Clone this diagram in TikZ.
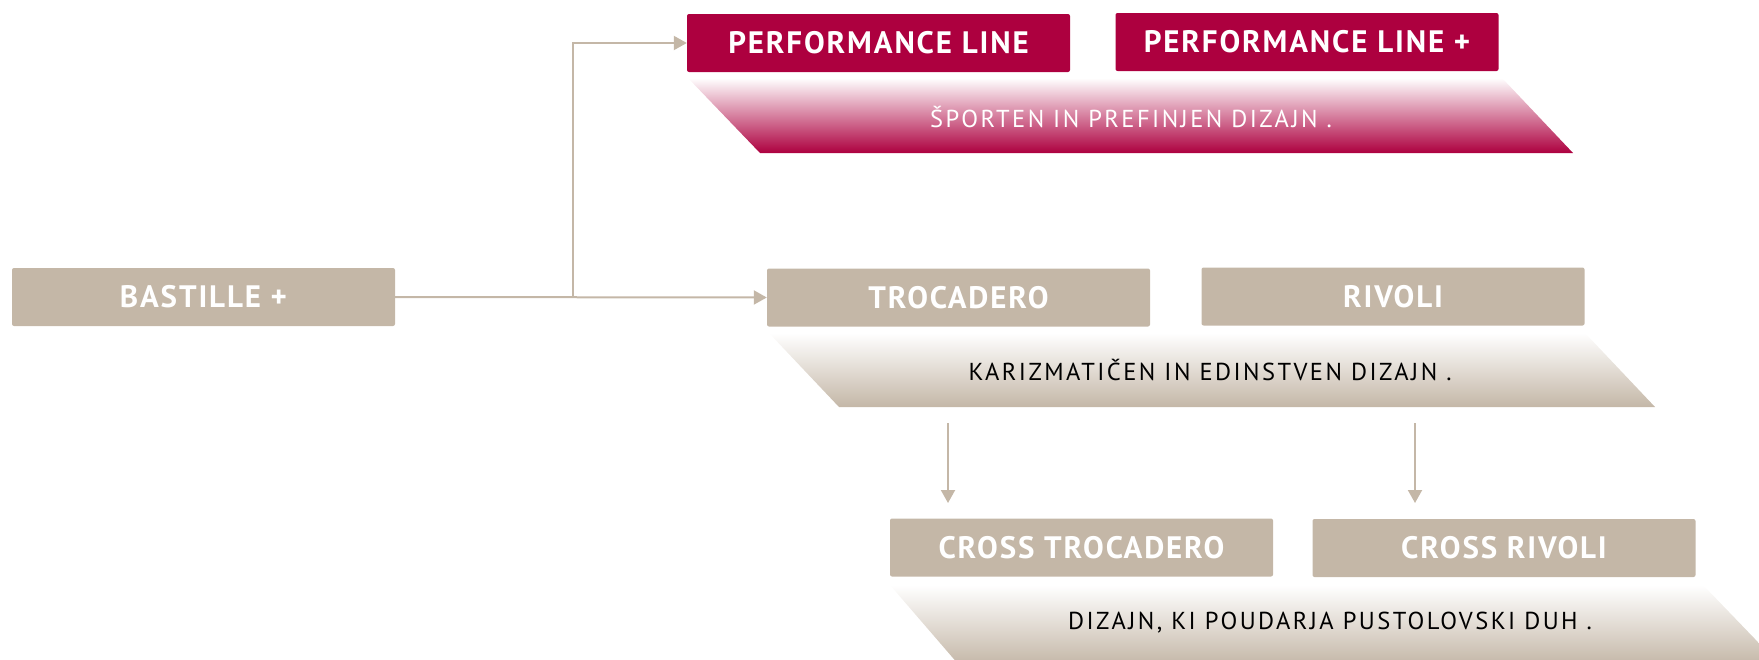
\documentclass[tikz,border=0pt]{standalone}
\usepackage{fontspec}
\setmainfont{PT Sans}
\newfontfamily\boxfont[LetterSpace=6]{PT Sans}
\newfontfamily\banfont[LetterSpace=10]{PT Sans}
\usetikzlibrary{arrows.meta}
\definecolor{crim}{HTML}{AD003F}
\definecolor{beige}{HTML}{C4B7A7}
\tikzset{
  box/.style={rectangle, rounded corners=2pt, minimum width=383pt, minimum height=58pt, inner sep=0pt, text=white, font=\boxfont\fontsize{31}{31}\selectfont\bfseries},
  redbox/.style={box, fill=crim},
  beigebox/.style={box, fill=beige},
  conn/.style={draw=beige, line width=2pt, -{Triangle[length=13pt,width=14pt]}},
  bantext/.style={inner sep=0pt, font=\banfont\fontsize{24.5}{24.5}\selectfont},
}
\begin{document}
\begin{tikzpicture}[x=1pt,y=-1pt]
\useasboundingbox (0,0) rectangle (1759,659);
\begin{scope}
\clip (0,0) rectangle (1759,659);
% banners
\shade[top color=white, bottom color=crim] (688,78) -- (1502,78) -- (1573,153) -- (760,153) -- cycle;
\shade[top color=white, bottom color=beige] (769,333) -- (1585,333) -- (1655,407) -- (839,407) -- cycle;
\shade[top color=white, bottom color=beige] (890,585) -- (1703,585) -- (1780,665) -- (959,665) -- cycle;
\end{scope}
\node[bantext, text=white] (t1) at (1131,117) {ŠPORTEN IN PREFINJEN DIZAJN .};
\node[bantext, text=black] (t2) at (1210,370) {KARIZMATIČEN IN EDINSTVEN DIZAJN .};
\node[bantext, text=black] (t3) at (1330,623) {DIZAJN, KI POUDARJA PUSTOLOVSKI DUH .};
% boxes
\node[redbox] (pl) at (878.5,43) {PERFORMANCE LINE};
\node[redbox] (plp) at (1307,42) {PERFORMANCE LINE +};
\node[beigebox] (bast) at (203.5,297) {BASTILLE +};
\node[beigebox] (tro) at (958.5,297.5) {TROCADERO};
\node[beigebox] (riv) at (1393,296.5) {RIVOLI};
\node[beigebox] (ctro) at (1081.5,547.5) {CROSS TROCADERO};
\node[beigebox] (criv) at (1504,548) {CROSS RIVOLI};
% connectors
\coordinate (j) at (573,297);
\draw[conn] (bast.east) -- (tro.west);
\draw[conn] (j) |- (pl.west);
\coordinate (d1s) at (948,423);
\coordinate (d1e) at (948,503);
\coordinate (d2s) at (1415,423);
\coordinate (d2e) at (1415,503);
\draw[conn] (d1s) -- (d1e);
\draw[conn] (d2s) -- (d2e);
\end{tikzpicture}
\end{document}
